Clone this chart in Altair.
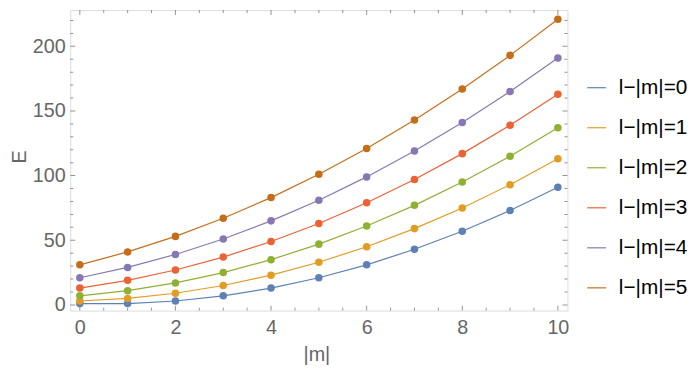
import altair as alt
import pandas as pd

# ---- data ----
m_values = [0, 1, 2, 3, 4, 5, 6, 7, 8, 9, 10]
E_k0 = [1, 1, 3, 7, 13, 21, 31, 43, 57, 73, 91]
E_k1 = [3, 5, 9, 15, 23, 33, 45, 59, 75, 93, 113]
E_k2 = [7, 11, 17, 25, 35, 47, 61, 77, 95, 115, 137]
E_k3 = [13, 19, 27, 37, 49, 63, 79, 97, 117, 139, 163]
E_k4 = [21, 29, 39, 51, 65, 81, 99, 119, 141, 165, 191]
E_k5 = [31, 41, 53, 67, 83, 101, 121, 143, 167, 193, 221]

series_labels = ["l\u2212|m|=0", "l\u2212|m|=1", "l\u2212|m|=2",
                 "l\u2212|m|=3", "l\u2212|m|=4", "l\u2212|m|=5"]
series_colors = ["#5E81B5", "#E19C24", "#8FB032", "#EB6235", "#8778B3", "#C56E1A"]

x_label_ticks = [0, 2, 4, 6, 8, 10]
x_minor_ticks = [0.5, 1, 1.5, 2.5, 3, 3.5, 4.5, 5, 5.5, 6.5, 7, 7.5, 8.5, 9, 9.5]
y_label_ticks = [0, 50, 100, 150, 200]
y_minor_ticks = [10, 20, 30, 40, 60, 70, 80, 90, 110, 120, 130, 140,
                 160, 170, 180, 190, 210, 220]

x_domain = [-0.2, 10.2]
y_domain = [-4.4, 228.0]

# ---- build long table ----
series_values = [E_k0, E_k1, E_k2, E_k3, E_k4, E_k5]
rows = []
for lab, vals in zip(series_labels, series_values):
    for m, e in zip(m_values, vals):
        rows.append({"m": m, "E": e, "series": lab})
df = pd.DataFrame(rows)

FONT = "Liberation Sans"
GRAY = "#666666"

xs = alt.Scale(domain=x_domain, nice=False, zero=False)
ys = alt.Scale(domain=y_domain, nice=False, zero=False)

x_axis = alt.Axis(values=x_label_ticks, title="|m|", ticks=False, tickSize=0,
                  domain=False, grid=False, labelFontSize=20, labelColor=GRAY,
                  labelFont=FONT, labelPadding=7, labelFlush=False,
                  labelOverlap=False, titleFont=FONT, titleFontSize=20,
                  titleColor=GRAY, titleFontWeight="normal", titleX=249,
                  titleY=51, titleBaseline="alphabetic", titleAlign="center")
y_axis = alt.Axis(values=y_label_ticks, title="E", ticks=False, tickSize=0,
                  domain=False, grid=False, labelFontSize=20, labelColor=GRAY,
                  labelFont=FONT, labelPadding=5, labelOverlap=False,
                  titleFont=FONT, titleFontSize=20, titleColor=GRAY,
                  titleFontWeight="normal", titleAngle=270, titleX=-45,
                  titleY=148, titleBaseline="alphabetic", titleAlign="center")

legend = alt.Legend(title=None, orient="none", legendX=522, legendY=68,
                    symbolType="stroke", symbolSize=361, symbolStrokeWidth=1.2,
                    labelFont=FONT, labelFontSize=21, labelColor="#000000",
                    labelOffset=12, rowPadding=18.5, padding=0, labelLimit=0)

color = alt.Color("series:N",
                  scale=alt.Scale(domain=series_labels, range=series_colors),
                  legend=legend)

lines = alt.Chart(df).mark_line(strokeWidth=1.2).encode(
    x=alt.X("m:Q", scale=xs, axis=x_axis, title="|m|"),
    y=alt.Y("E:Q", scale=ys, axis=y_axis, title="E"),
    color=color,
    order="m:Q",
)
points = alt.Chart(df).mark_circle(size=58, opacity=1).encode(
    x=alt.X("m:Q", scale=xs, axis=x_axis, title="|m|"),
    y=alt.Y("E:Q", scale=ys, axis=y_axis, title="E"),
    color=color,
)


def yticks(vals, at, size):
    return alt.Chart(pd.DataFrame({"v": vals})).mark_tick(
        orient="horizontal", size=size, thickness=1, color=GRAY, clip=True
    ).encode(
        x=alt.XDatum(at, type="quantitative", scale=xs, axis=x_axis, title="|m|"),
        y=alt.Y("v:Q", scale=ys, axis=y_axis, title="E"),
    )


def xticks(vals, at, size):
    return alt.Chart(pd.DataFrame({"v": vals})).mark_tick(
        orient="vertical", size=size, thickness=1, color=GRAY, clip=True
    ).encode(
        x=alt.X("v:Q", scale=xs, axis=x_axis, title="|m|"),
        y=alt.YDatum(at, type="quantitative", scale=ys, axis=y_axis, title="E"),
    )


tick_layers = [
    yticks(y_label_ticks, x_domain[0], 10), yticks(y_minor_ticks, x_domain[0], 6),
    yticks(y_label_ticks, x_domain[1], 10), yticks(y_minor_ticks, x_domain[1], 6),
    xticks(x_label_ticks, y_domain[0], 10), xticks(x_minor_ticks, y_domain[0], 6),
    xticks(x_label_ticks, y_domain[1], 10), xticks(x_minor_ticks, y_domain[1], 6),
]

chart = alt.layer(lines, points, *tick_layers).properties(
    width=503,
    height=304,
    autosize=alt.AutoSizeParams(type="none"),
    padding={"left": 63, "top": 0, "right": 124, "bottom": 61},
    background="white",
).configure_view(stroke=GRAY, strokeWidth=1).configure(font=FONT)

chart.save("out.html", embed_options={"renderer": "svg", "actions": False})
